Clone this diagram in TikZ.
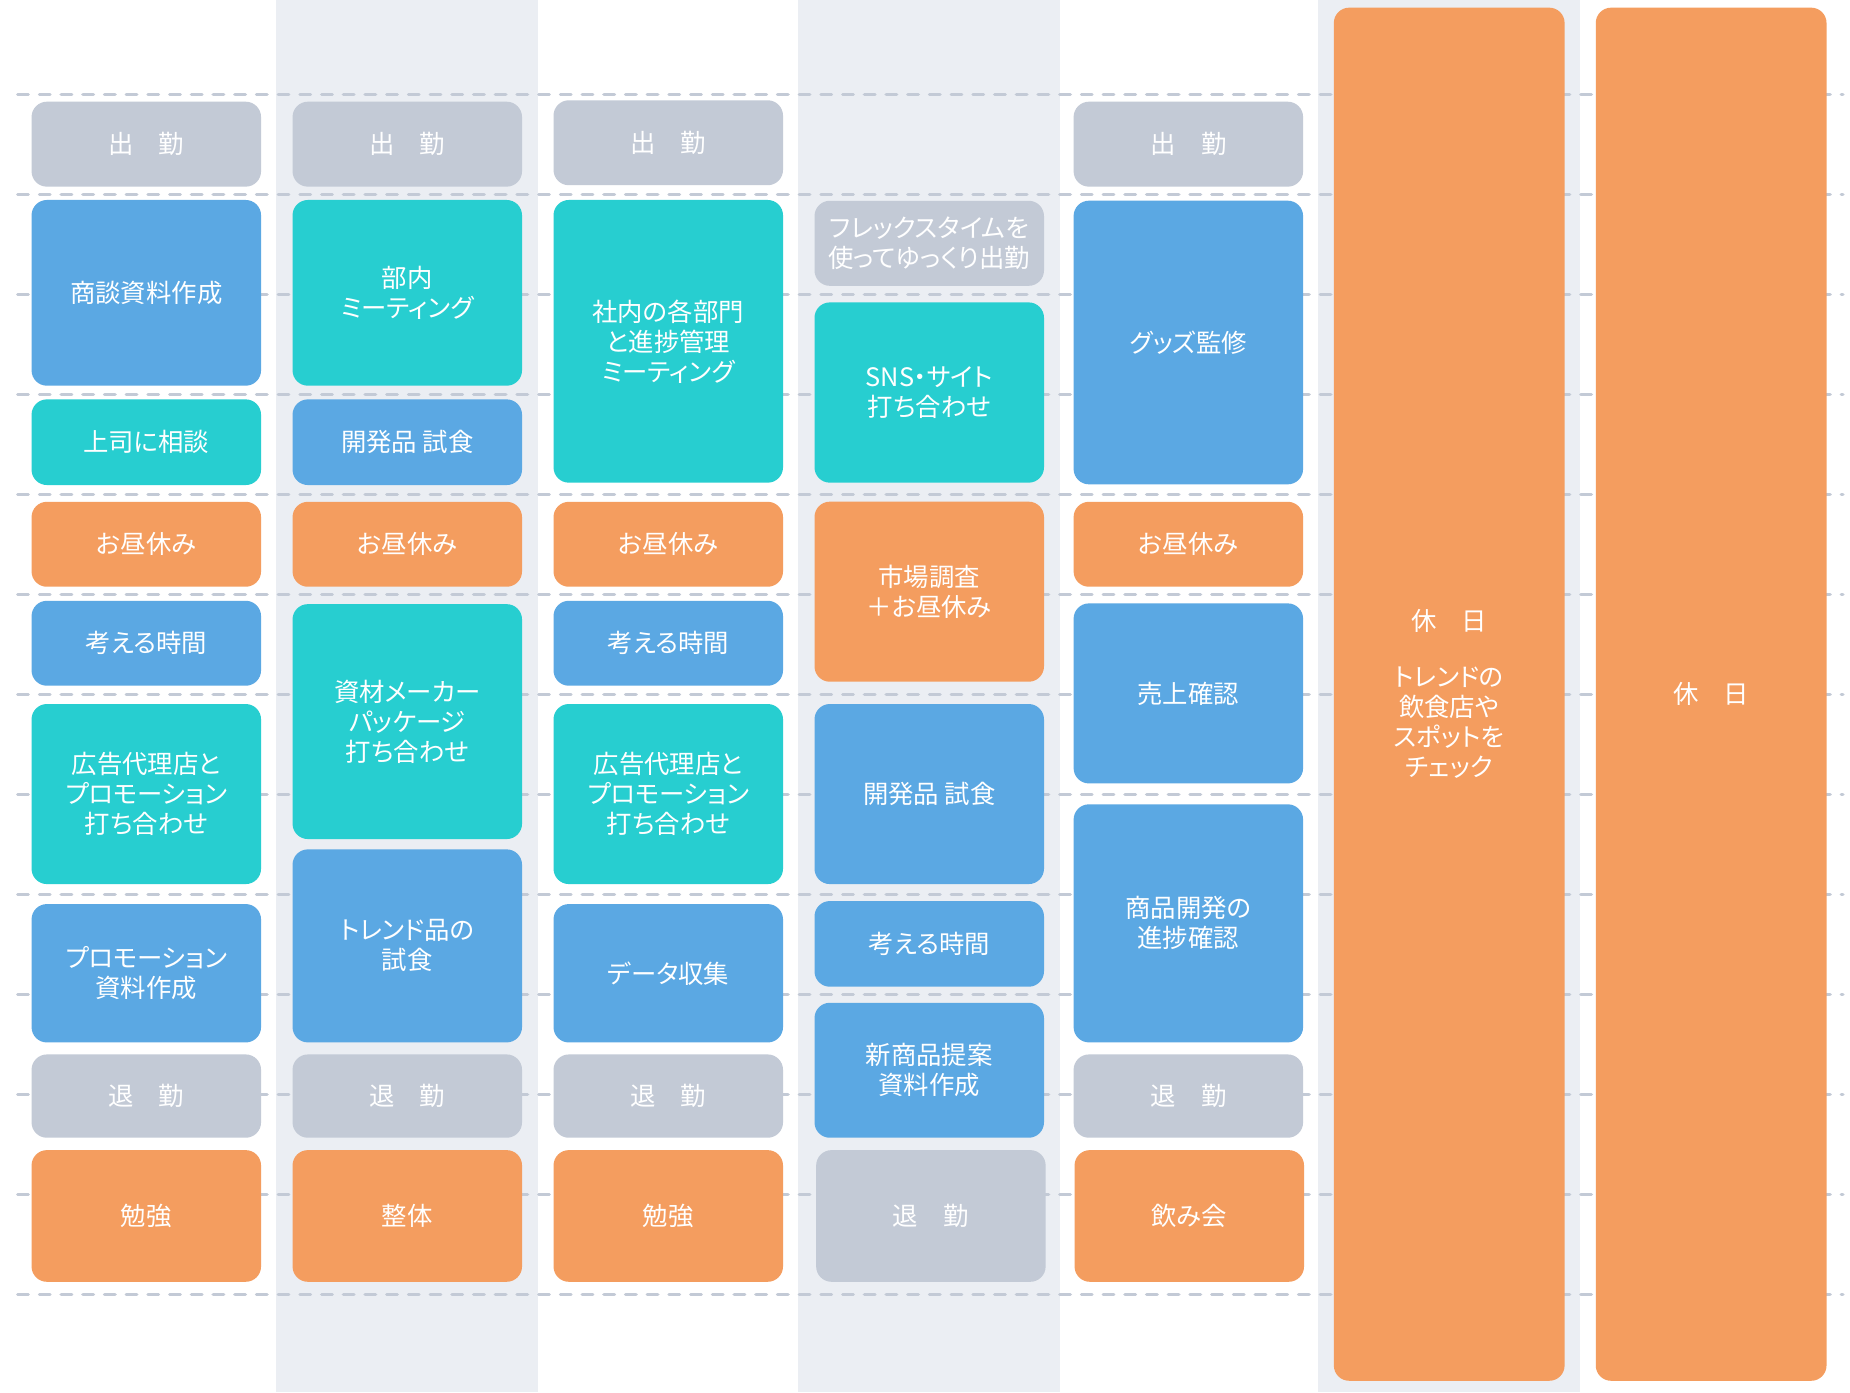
\documentclass[tikz,border=0pt]{standalone}
\usepackage{fontspec}
\newfontfamily\jpfont[RawFeature=+palt]{Noto Sans CJK JP}
\usepackage{tikz}
\definecolor{plangray}{HTML}{C3CAD6}
\definecolor{planblue}{HTML}{5BA8E3}
\definecolor{planteal}{HTML}{27CED0}
\definecolor{planorange}{HTML}{F49D5F}
\definecolor{planband}{HTML}{EBEEF3}

\begin{document}
\begin{tikzpicture}[x=1pt,y=-1pt]
\tikzset{
  day band/.style={fill=planband},
  slot line/.style={draw=plangray, line width=2.8pt, line cap=round,
    dash pattern=on 9pt off 9.4pt},
  day box/.style={
    rounded corners=13pt,
    minimum width=194.5pt,
    inner sep=0pt,
    align=center,
    text=white,
    font=\jpfont\fontsize{21.5}{25.4}\selectfont
  },
  gray box/.style={day box, fill=plangray},
  blue box/.style={day box, fill=planblue},
  teal box/.style={day box, fill=planteal},
  orange box/.style={day box, fill=planorange},
}

\useasboundingbox (0,0) rectangle (1568,1180);
\fill[white] (0,0) rectangle (1568,1180);

\fill[day band] (233.9,0) rectangle (455.9,1180);
\fill[day band] (676.4,0) rectangle (898.5,1180);
\fill[day band] (1117.1,0) rectangle (1339.1,1180);

\foreach \k in {0,...,12}
  \draw[slot line] (15,{79.9+84.76*\k}) -- (1562,{79.9+84.76*\k});

% mon
\node[gray box, minimum height=72pt] (mon1) at (124,122.2) {出　勤};
\node[blue box, minimum height=157.4pt] (mon2) at (124,248.2) {商談資料作成};
\node[teal box, minimum height=72.6pt] (mon3) at (124,374.8) {上司に相談};
\node[orange box, minimum height=72pt] (mon4) at (124,461.3) {お昼休み};
\node[blue box, minimum height=72pt] (mon5) at (124,545.2) {考える時間};
\node[teal box, minimum height=152.6pt] (mon6) at (124,673) {広告代理店と\\プロモーション\\打ち合わせ};
\node[blue box, minimum height=117.3pt] (mon7) at (124,824.9) {プロモーション\\資料作成};
\node[gray box, minimum height=70.6pt] (mon8) at (124,929) {退　勤};
\node[orange box, minimum height=111.6pt] (mon9) at (124,1030.6) {勉強};

% tue
\node[gray box, minimum height=72pt] (tue1) at (345.2,122.2) {出　勤};
\node[teal box, minimum height=157.4pt] (tue2) at (345.2,248.2) {部内\\ミーティング};
\node[blue box, minimum height=72.6pt] (tue3) at (345.2,374.8) {開発品 試食};
\node[orange box, minimum height=72pt] (tue4) at (345.2,461.3) {お昼休み};
\node[teal box, minimum height=199.1pt] (tue5) at (345.2,611.6) {資材メーカー\\パッケージ\\打ち合わせ};
\node[blue box, minimum height=163.6pt] (tue6) at (345.2,801.7) {トレンド品の\\試食};
\node[gray box, minimum height=70.6pt] (tue7) at (345.2,929) {退　勤};
\node[orange box, minimum height=111.6pt] (tue8) at (345.2,1030.6) {整体};

% wed
\node[gray box, minimum height=72pt] (wed1) at (566.4,121) {出　勤};
\node[teal box, minimum height=239.6pt] (wed2) at (566.4,289.3) {社内の各部門\\と進捗管理\\ミーティング};
\node[orange box, minimum height=72pt] (wed3) at (566.4,461.3) {お昼休み};
\node[blue box, minimum height=72pt] (wed4) at (566.4,545.2) {考える時間};
\node[teal box, minimum height=152.6pt] (wed5) at (566.4,673) {広告代理店と\\プロモーション\\打ち合わせ};
\node[blue box, minimum height=117.3pt] (wed6) at (566.4,824.9) {データ収集};
\node[gray box, minimum height=70.6pt] (wed7) at (566.4,929) {退　勤};
\node[orange box, minimum height=111.6pt] (wed8) at (566.4,1030.6) {勉強};

% thu
\node[gray box, minimum height=72.1pt] (thu1) at (787.6,206.2) {フレックスタイムを\\使ってゆっくり出勤};
\node[teal box, minimum height=152.8pt] (thu2) at (787.6,332.7) {SNS・サイト\\打ち合わせ};
\node[orange box, minimum height=152.6pt] (thu3) at (787.6,501.5) {市場調査\\＋お昼休み};
\node[blue box, minimum height=152.6pt] (thu4) at (787.6,673) {開発品 試食};
\node[blue box, minimum height=72.6pt] (thu5) at (787.6,800) {考える時間};
\node[blue box, minimum height=114.4pt] (thu6) at (787.6,907.1) {新商品提案\\資料作成};
\node[gray box, minimum height=111.6pt] (thu7) at (789,1030.6) {退　勤};

% fri
\node[gray box, minimum height=72pt] (fri1) at (1007.2,122.2) {出　勤};
\node[blue box, minimum height=240.4pt] (fri2) at (1007.2,290.3) {グッズ監修};
\node[orange box, minimum height=72pt] (fri3) at (1007.2,461.3) {お昼休み};
\node[blue box, minimum height=152.6pt] (fri4) at (1007.2,587.7) {売上確認};
\node[blue box, minimum height=201.8pt] (fri5) at (1007.2,782.6) {商品開発の\\進捗確認};
\node[gray box, minimum height=70.6pt] (fri6) at (1007.2,929) {退　勤};
\node[orange box, minimum height=111.6pt] (fri7) at (1008,1030.6) {飲み会};

% sat, sun
\node[orange box, minimum width=195.6pt, minimum height=1163.8pt] (sat) at (1228.3,588.4) {休　日\\[22.1pt]トレンドの\\飲食店や\\スポットを\\チェック};
\node[orange box, minimum width=195.6pt, minimum height=1163.8pt] (sun) at (1450.3,588.4) {休　日};

\end{tikzpicture}
\end{document}
